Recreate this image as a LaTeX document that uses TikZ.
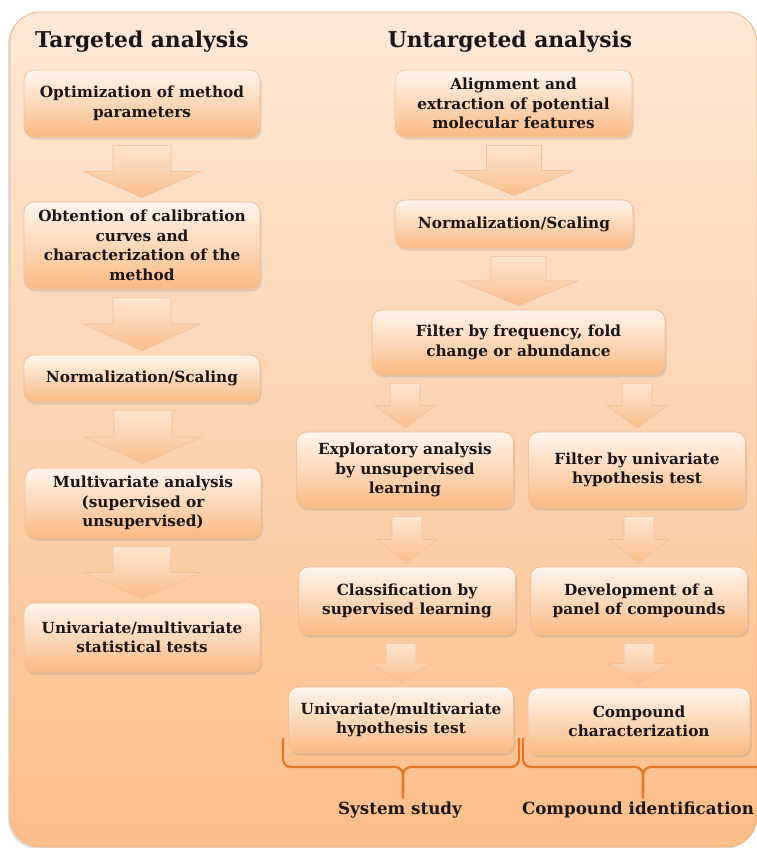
\documentclass[tikz,border=0pt]{standalone}
\usepackage{fontspec}
\setmainfont{DejaVu Serif}
\usetikzlibrary{calc,shadows}
\definecolor{bgtop}{RGB}{253,232,214}
\definecolor{bgbottom}{RGB}{252,190,138}
\definecolor{bgline}{RGB}{244,178,128}
\definecolor{boxtop}{RGB}{255,245,236}
\definecolor{boxbottom}{RGB}{250,186,132}
\definecolor{boxline}{RGB}{244,190,150}
\definecolor{arrowtop}{RGB}{254,230,208}
\definecolor{arrowbottom}{RGB}{250,190,140}
\definecolor{bracecol}{RGB}{228,118,36}
\definecolor{inkcol}{RGB}{28,22,22}
\newcommand{\boxfont}{\fontsize{15.3}{19.5}\selectfont\bfseries}
\newcommand{\titlefont}{\fontsize{21.8}{26}\selectfont\bfseries}
\newcommand{\labelfont}{\fontsize{16.7}{20}\selectfont\bfseries}
\tikzset{
  stepbox/.style={draw=boxline, line width=0.8pt, rounded corners=10pt,
    top color=boxtop, bottom color=boxbottom,
    drop shadow={shadow xshift=1.5pt, shadow yshift=-2.5pt, opacity=0.22},
    align=center, font=\boxfont, text=inkcol, inner sep=0pt},
  flowarrow/.style={draw=boxline, line width=0.6pt, top color=arrowtop, bottom color=arrowbottom},
  bracket/.style={draw=bracecol, line width=2.2pt, rounded corners=8pt},
  heading/.style={font=\titlefont, text=inkcol},
  footlabel/.style={font=\labelfont, text=inkcol}
}
% block arrow from one box down to the next: #3 body half width, #4 head half width
\newcommand{\downflow}[4]{%
  \path[flowarrow] let \p1=(#1.south), \p2=(#2.north) in
    (\x2-#3pt,\y1-8pt) -- (\x2+#3pt,\y1-8pt) -- (\x2+#3pt,{(\y1+\y2)/2-2pt})
    -- (\x2+#4pt,{(\y1+\y2)/2-2pt}) -- (\x2,\y2+4pt) -- (\x2-#4pt,{(\y1+\y2)/2-2pt})
    -- (\x2-#3pt,{(\y1+\y2)/2-2pt}) -- cycle;}
\begin{document}
\begin{tikzpicture}[x=1pt,y=-1pt]
  \useasboundingbox (0,0) rectangle (757,848);
  % background panel
  \path[draw=bgline, line width=0.8pt, top color=bgtop, bottom color=bgbottom, rounded corners=30pt,
    drop shadow={shadow xshift=-2pt, shadow yshift=-2pt, opacity=0.25}] (10,12) rectangle (757,847);
  % Left: targeted analysis
  \node[heading] (targeted) at (142,42) {Targeted analysis};
  \node[stepbox, minimum width=236, minimum height=67] (optim) at (142,103.5) {Optimization of method\\parameters};
  \node[stepbox, minimum width=236, minimum height=87] (calib) at (142,245.5) {Obtention of calibration\\curves and\\characterization of the\\method};
  \node[stepbox, minimum width=236, minimum height=47] (normleft) at (142,378.5) {Normalization/Scaling};
  \node[stepbox, minimum width=236, minimum height=70] (multi) at (143,503) {Multivariate analysis\\(supervised or\\unsupervised)};
  \node[stepbox, minimum width=236, minimum height=69] (stats) at (142,637.5) {Univariate/multivariate\\statistical tests};
  \downflow{optim}{calib}{29}{58.5}
  \downflow{calib}{normleft}{29}{58.5}
  \downflow{normleft}{multi}{29}{58.5}
  \downflow{multi}{stats}{29}{58.5}
  % Right: untargeted analysis
  \node[heading] (untargeted) at (510,42) {Untargeted analysis};
  \node[stepbox, minimum width=237, minimum height=67] (align) at (513.5,103.5) {Alignment and\\extraction of potential\\molecular features};
  \node[stepbox, minimum width=238, minimum height=48] (normright) at (514,224) {Normalization/Scaling};
  \node[stepbox, minimum width=293, minimum height=65] (filter) at (518.5,342.5) {Filter by frequency, fold\\change or abundance};
  \downflow{align}{normright}{27.5}{59.5}
  \downflow{normright}{filter}{27.5}{59.5}
  % system study branch
  \node[stepbox, minimum width=217, minimum height=76] (explore) at (405,470) {Exploratory analysis\\by unsupervised\\learning};
  \node[stepbox, minimum width=217, minimum height=68] (classif) at (407,601) {Classification by\\supervised learning};
  \node[stepbox, minimum width=225, minimum height=66] (hypo) at (401,720) {Univariate/multivariate\\hypothesis test};
  % compound identification branch
  \node[stepbox, minimum width=217, minimum height=76] (unifilter) at (637,470) {Filter by univariate\\hypothesis test};
  \node[stepbox, minimum width=217, minimum height=68] (panel) at (639,601) {Development of a\\panel of compounds};
  \node[stepbox, minimum width=222, minimum height=67] (charac) at (639,721.5) {Compound\\characterization};
  \downflow{filter}{explore}{15}{30}
  \downflow{filter}{unifilter}{15}{30}
  \downflow{explore}{classif}{15}{30}
  \downflow{classif}{hypo}{15}{30}
  \downflow{unifilter}{panel}{15}{30}
  \downflow{panel}{charac}{15}{30}
  % brackets and group labels
  \draw[bracket] (283,738) -- (283,767) -- (403,767) -- (403,798);
  \draw[bracket] (519,738) -- (519,767) -- (403,767) -- (403,798);
  \draw[bracket] (523,738) -- (523,767) -- (643,767) -- (643,798);
  \draw[bracket] (770,738) -- (770,767) -- (643,767) -- (643,798);
  \node[footlabel] (system) at (400,810) {System study};
  \node[footlabel] (compound) at (638,810) {Compound identification};
\end{tikzpicture}
\end{document}
